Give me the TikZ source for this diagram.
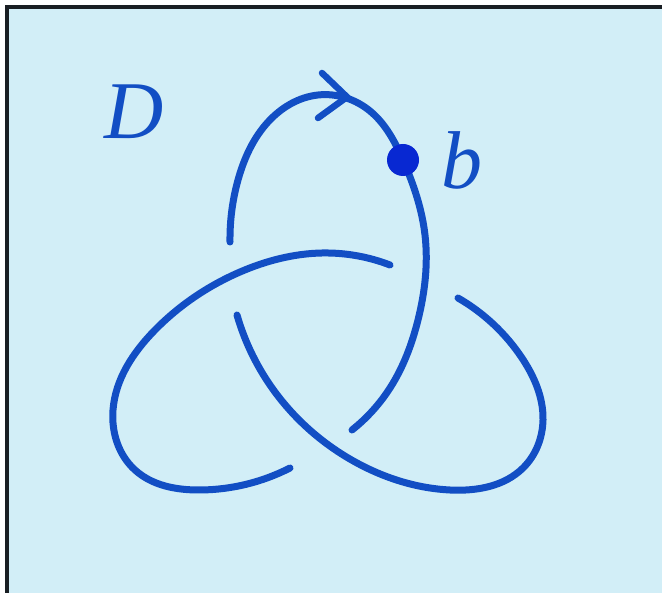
\documentclass[tikz,border=0pt]{standalone}
\usepackage{fontspec}
\setmainfont{Liberation Serif}
\usetikzlibrary{hobby}
\definecolor{paper}{RGB}{210,238,247}
\definecolor{ink}{RGB}{18,78,196}
\definecolor{dotink}{RGB}{8,40,210}
\definecolor{frame}{RGB}{25,30,35}
\begin{document}
\begin{tikzpicture}[x=1pt,y=-1pt,
  strand/.style={draw=ink,line width=7pt,line cap=round,line join=round,use Hobby shortcut},
  lbl/.style={text=ink,font=\fontsize{82}{82}\selectfont\itshape,inner sep=0pt}]
\useasboundingbox (0,0) rectangle (662,593);
\fill[white] (0,0) rectangle (662,593);
\fill[paper] (7,7) rectangle (662,593);
\draw[frame,line width=3.5pt] (7,593) -- (7,7) -- (662,7);
% strand 1: top arc through b, over-strand on the right
\draw[strand] (230,242) .. (238,180) .. (268,122) .. (318,95) .. (370,111) .. (403,160) .. (425,235) .. (418,320) .. (390,388) .. (352,430);
% strand 2: left lobe
\draw[strand] (390,265) .. (322,253) .. (240,272) .. (155,330) .. (113,410) .. (135,470) .. (200,490) .. (290,468);
% strand 3: right lobe
\draw[strand] (237,315) .. (270,385) .. (357,463) .. (450,490) .. (523,468) .. (543,420) .. (522,358) .. (458,298);
% arrowhead (chevron)
\draw[draw=ink,line width=6.5pt,line cap=round,line join=miter] (322,73) -- (347,97) -- (318,118);
% base point
\node[circle,fill=dotink,minimum size=32pt,inner sep=0pt] (bpt) at (403,160) {};
\node[lbl] (lD) at (134,112) {D};
\node[lbl] (lb) at (462,160) {b};
\end{tikzpicture}
\end{document}
